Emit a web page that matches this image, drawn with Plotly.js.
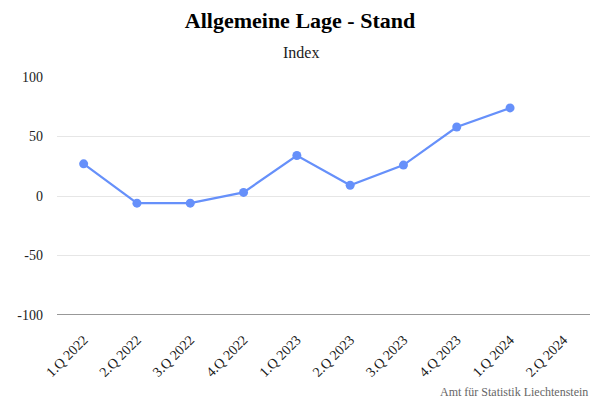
<!DOCTYPE html>
<html>
<head>
<meta charset="utf-8">
<script src="https://cdn.plot.ly/plotly-3.0.1.min.js"></script>
<style>html,body{margin:0;padding:0;background:#fff}#chart{width:600px;height:400px}</style>
</head>
<body>
<div id="chart"></div>
<script>
var categories = ["1.Q 2022","2.Q 2022","3.Q 2022","4.Q 2022","1.Q 2023","2.Q 2023","3.Q 2023","4.Q 2023","1.Q 2024","2.Q 2024"];
var values = [27, -6, -6, 3, 34, 9, 26, 58, 74, null];
var yTicks = [-100, -50, 0, 50, 100];

var trace = {
  x: categories,
  y: values,
  type: "scatter",
  mode: "lines+markers",
  line: {color: "#6690fa", width: 2.2},
  marker: {color: "#6690fa", size: 9},
  connectgaps: false,
  hoverinfo: "x+y"
};

var layout = {
  width: 600, height: 400,
  margin: {l: 57, r: 10, t: 77, b: 85},
  paper_bgcolor: "#fff", plot_bgcolor: "#fff",
  font: {family: "Liberation Serif, Times New Roman, serif", color: "#222", size: 14},
  title: {text: "<b>Allgemeine Lage - Stand</b>", x: 0.5, xanchor: "center", y: 0.95, yanchor: "middle",
          font: {family: "Liberation Serif, serif", size: 22, color: "#000"}},
  showlegend: false,
  xaxis: {
    type: "category",
    categoryorder: "array", categoryarray: categories,
    range: [-0.5, categories.length - 0.5],
    tickangle: -45,
    showgrid: false, zeroline: false,
    showline: false,
    ticks: "", ticklen: 0,
    ticklabelstandoff: 13,
    tickfont: {size: 14, color: "#1a1a1a"}
  },
  yaxis: {
    range: [-100, 100],
    tickvals: yTicks,
    ticktext: yTicks.map(String),
    showgrid: true, gridcolor: "#e6e6e6", gridwidth: 1,
    zeroline: false,
    showline: false,
    ticks: "", ticklen: 0,
    ticklabelstandoff: 13,
    tickfont: {size: 14, color: "#222"}
  },
  shapes: [{type: "line", xref: "paper", yref: "y", x0: 0, x1: 1, y0: -100, y1: -100, line: {color: "#333", width: 1.2}}],
  annotations: [
    {text: "Index", xref: "paper", yref: "paper", x: 0.458, y: 1.105, xanchor: "center", yanchor: "middle", showarrow: false,
     font: {size: 16, color: "#222", family: "Liberation Serif, serif"}},
    {text: "Amt für Statistik Liechtenstein", xref: "paper", yref: "paper", x: 1, y: -0.325, xanchor: "right", yanchor: "middle", showarrow: false,
     font: {size: 12, color: "#666", family: "Liberation Serif, serif"}}
  ]
};

Plotly.newPlot("chart", [trace], layout, {displayModeBar: false, staticPlot: true});
</script>
</body>
</html>
